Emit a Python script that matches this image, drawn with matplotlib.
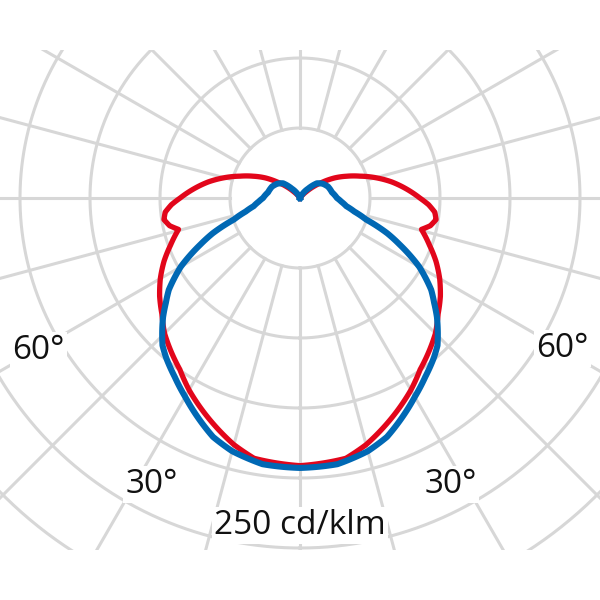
import numpy as np
import matplotlib
matplotlib.use('Agg')
import matplotlib.pyplot as plt
from matplotlib.patches import Rectangle

# light distribution curve, cd/klm, gamma measured from nadir (both halves symmetric)
gamma_red = [0, 10, 15, 20, 25, 30, 35, 40, 45, 50, 55, 60, 65, 70, 72, 75.5, 78, 81, 84, 87,
             90, 95, 100, 105, 110, 115, 120, 125, 130, 135, 140, 145, 180]
red_cd = [239, 236, 228, 218, 208, 198, 187, 179, 171, 161, 153, 144, 134, 123, 119, 112, 119, 123, 121, 115,
          107, 95, 83, 70, 57, 46, 36, 25, 16, 8, 3, 0, 0]

gamma_blue = [0, 8, 15, 20, 25, 30, 35, 40, 43, 46, 49, 52, 55, 60, 65, 68, 72, 76, 80, 85,
              90, 100, 112, 122, 131, 139, 150, 160, 180]
blue_cd = [241, 240, 234, 227, 216, 205, 195, 186, 180, 171, 162, 152, 143, 123, 98, 84, 62, 50, 42, 37,
           33, 29, 27, 24, 20, 11, 3, 0, 0]

ring_step = 62.5      # cd/klm between circles
n_rings = 7
spoke_step = 15       # degrees
angle_labels = ['60°', '30°', '30°', '60°']
scale_label = '250 cd/klm'

grid_col = '#d7d7d7'
red_col = '#e2061b'
blue_col = '#0068b4'


def full_curve(g, v):
    g = np.radians(np.array(g, dtype=float))
    v = np.array(v, dtype=float)
    th = np.concatenate([-g[::-1], g[1:]])
    r = np.concatenate([v[::-1], v[1:]])
    return th, r


fig = plt.figure(figsize=(6, 6), dpi=100)
rmax = n_rings * ring_step
R = 490 / 600.0
cx, cy = 0.5, 1 - 198 / 600.0
ax = fig.add_axes([cx - R, cy - R, 2 * R, 2 * R], projection='polar')
ax.set_theta_zero_location('S')
ax.set_rlim(0, rmax)
ax.grid(False)
ax.set_xticks([])
ax.set_yticks([])
ax.spines['polar'].set_visible(False)

# grid only shown inside a band of the picture
band = Rectangle((0, 50 / 600.0), 1, 500 / 600.0, transform=fig.transFigure, facecolor='none')

tt = np.linspace(0, 2 * np.pi, 721)
for k in range(1, n_rings + 1):
    ln, = ax.plot(tt, np.full_like(tt, k * ring_step), color=grid_col, lw=2.2, zorder=1)
    ln.set_clip_path(band)
for a in np.arange(0, 360, spoke_step):
    ln, = ax.plot([np.radians(a)] * 2, [ring_step, rmax], color=grid_col, lw=2.2, zorder=1)
    ln.set_clip_path(band)

# polar axes draws the segments between readings as spirals, like its own grid
th, r = full_curve(gamma_red, red_cd)
ln, = ax.plot(th, r, color=red_col, lw=3.8, solid_joinstyle='round', zorder=3)
ln.get_path()._interpolation_steps = 12
th, r = full_curve(gamma_blue, blue_cd)
ln, = ax.plot(th, r, color=blue_col, lw=4.4, solid_joinstyle='round', zorder=4)
ln.get_path()._interpolation_steps = 12

box = dict(facecolor='white', edgecolor='none', pad=1.5)
txt = dict(fontsize=24, family=['Open Sans', 'DejaVu Sans'], color='#111111',
           ha='center', va='center', bbox=box, zorder=5)
ax.text(np.radians(-59.8), 270, angle_labels[0], **txt)
ax.text(np.radians(-27.4), 288, angle_labels[1], **txt)
ax.text(np.radians(27.7), 289, angle_labels[2], **txt)
ax.text(np.radians(60.2), 270, angle_labels[3], **txt)
ax.text(0, 292, scale_label, **txt)

fig.savefig('out.png', dpi=100, facecolor='white')
